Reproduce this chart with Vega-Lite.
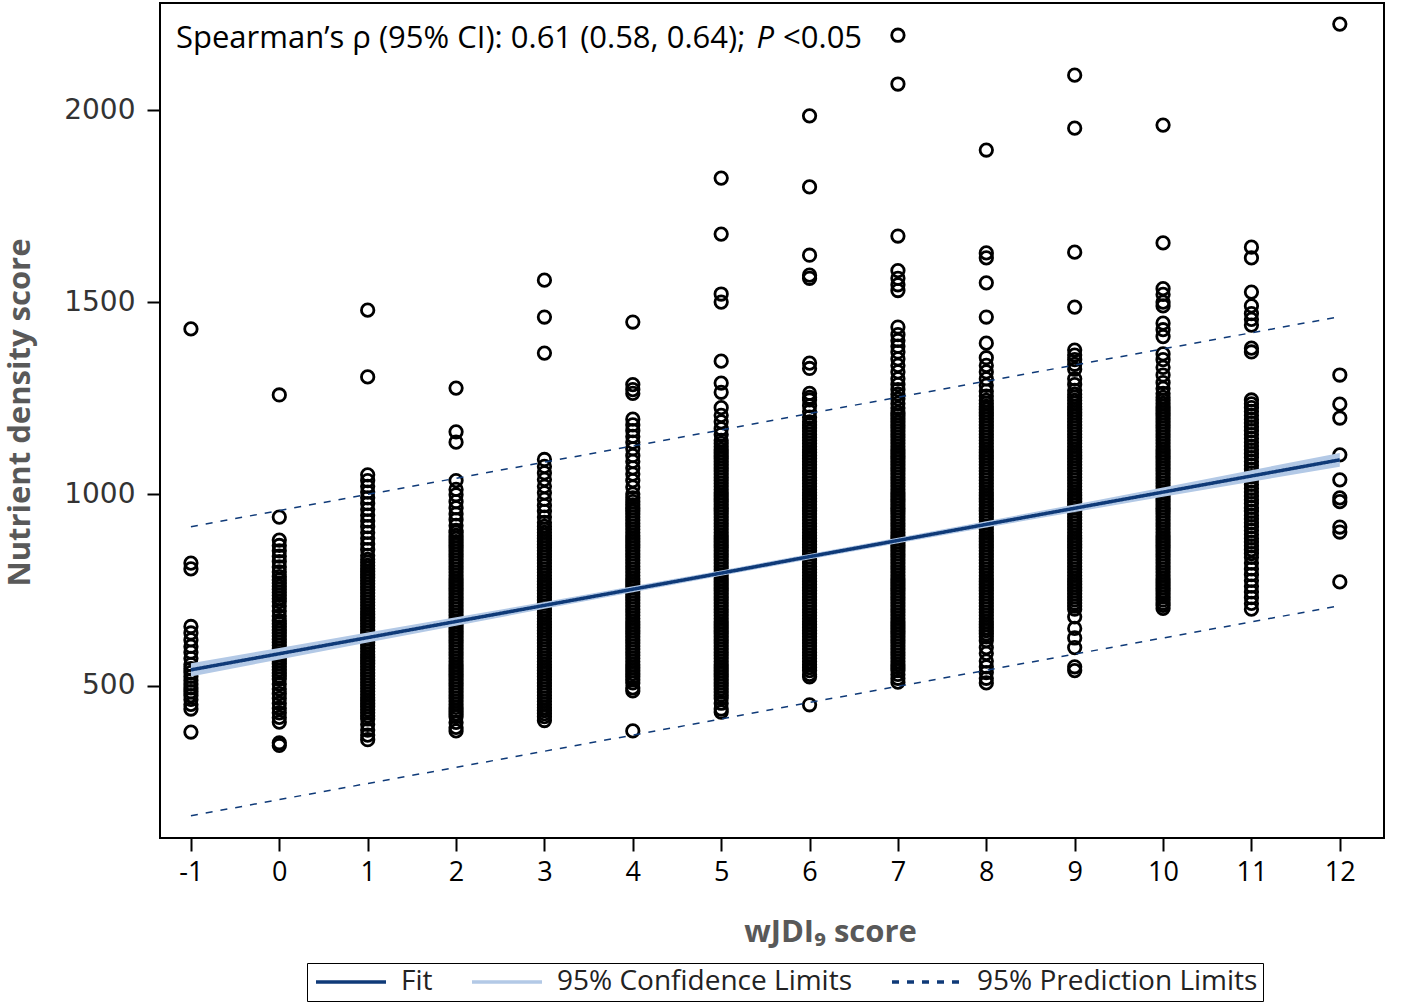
{
"$schema": "https://vega.github.io/schema/vega-lite/v6.json",
"width": 1224, "height": 835,
"autosize": "none",
"padding": {"left": 160, "top": 3, "right": 34, "bottom": 169},
"background": "white",
"config": {"view": {"stroke": "black", "strokeWidth": 2}},
"datasets": {
"pts": [
{"x":-1,"y":1430},{"x":-1,"y":820},{"x":-1,"y":805},{"x":-1,"y":655},{"x":-1,"y":638},{"x":-1,"y":620},{"x":-1,"y":603},{"x":-1,"y":588},{"x":-1,"y":572},{"x":-1,"y":556},{"x":-1,"y":545},{"x":-1,"y":535},{"x":-1,"y":525},{"x":-1,"y":515},{"x":-1,"y":505},{"x":-1,"y":495},{"x":-1,"y":485},{"x":-1,"y":475},{"x":-1,"y":465},{"x":-1,"y":452},{"x":-1,"y":440},{"x":-1,"y":380},
{"x":0,"y":1258},{"x":0,"y":940},{"x":0,"y":880},{"x":0,"y":866},{"x":0,"y":852},{"x":0,"y":838},{"x":0,"y":824},{"x":0,"y":810},{"x":0,"y":797},{"x":0,"y":785},{"x":0,"y":776},{"x":0,"y":768},{"x":0,"y":760},{"x":0,"y":752},{"x":0,"y":744},{"x":0,"y":736},{"x":0,"y":728},{"x":0,"y":720},{"x":0,"y":708},{"x":0,"y":695},{"x":0,"y":682},{"x":0,"y":670},{"x":0,"y":662},{"x":0,"y":654},{"x":0,"y":646},{"x":0,"y":638},{"x":0,"y":630},{"x":0,"y":622},{"x":0,"y":614},{"x":0,"y":606},{"x":0,"y":598},{"x":0,"y":590},{"x":0,"y":582},{"x":0,"y":574},{"x":0,"y":566},{"x":0,"y":558},{"x":0,"y":550},{"x":0,"y":542},{"x":0,"y":534},{"x":0,"y":526},{"x":0,"y":518},{"x":0,"y":505},{"x":0,"y":492},{"x":0,"y":480},{"x":0,"y":468},{"x":0,"y":455},{"x":0,"y":442},{"x":0,"y":430},{"x":0,"y":418},{"x":0,"y":406},{"x":0,"y":352},{"x":0,"y":345},
{"x":1,"y":1479},{"x":1,"y":1305},{"x":1,"y":1050},{"x":1,"y":1035},{"x":1,"y":1020},{"x":1,"y":1005},{"x":1,"y":990},{"x":1,"y":975},{"x":1,"y":960},{"x":1,"y":945},{"x":1,"y":930},{"x":1,"y":915},{"x":1,"y":900},{"x":1,"y":885},{"x":1,"y":870},{"x":1,"y":855},{"x":1,"y":840},
{"x":1,"y":830},{"x":1,"y":822},{"x":1,"y":814},{"x":1,"y":806},{"x":1,"y":798},{"x":1,"y":790},{"x":1,"y":782},{"x":1,"y":774},{"x":1,"y":766},{"x":1,"y":758},{"x":1,"y":750},{"x":1,"y":742},{"x":1,"y":734},{"x":1,"y":726},{"x":1,"y":718},{"x":1,"y":710},{"x":1,"y":702},{"x":1,"y":694},{"x":1,"y":686},{"x":1,"y":678},{"x":1,"y":670},{"x":1,"y":662},{"x":1,"y":654},{"x":1,"y":646},{"x":1,"y":638},{"x":1,"y":630},{"x":1,"y":622},{"x":1,"y":614},{"x":1,"y":606},{"x":1,"y":598},{"x":1,"y":590},{"x":1,"y":582},{"x":1,"y":574},{"x":1,"y":566},{"x":1,"y":558},{"x":1,"y":550},{"x":1,"y":542},{"x":1,"y":534},{"x":1,"y":526},{"x":1,"y":518},{"x":1,"y":510},{"x":1,"y":502},{"x":1,"y":494},{"x":1,"y":486},{"x":1,"y":478},{"x":1,"y":470},{"x":1,"y":462},{"x":1,"y":454},{"x":1,"y":446},{"x":1,"y":438},{"x":1,"y":430},{"x":1,"y":422},{"x":1,"y":414},{"x":1,"y":400},{"x":1,"y":385},{"x":1,"y":372},{"x":1,"y":360},
{"x":2,"y":1276},{"x":2,"y":1162},{"x":2,"y":1135},{"x":2,"y":1035},{"x":2,"y":1012},{"x":2,"y":998},{"x":2,"y":980},{"x":2,"y":964},{"x":2,"y":948},{"x":2,"y":933},{"x":2,"y":918},{"x":2,"y":905},
{"x":2,"y":900},{"x":2,"y":892},{"x":2,"y":884},{"x":2,"y":876},{"x":2,"y":868},{"x":2,"y":860},{"x":2,"y":852},{"x":2,"y":844},{"x":2,"y":836},{"x":2,"y":828},{"x":2,"y":820},{"x":2,"y":812},{"x":2,"y":804},{"x":2,"y":796},{"x":2,"y":788},{"x":2,"y":780},{"x":2,"y":772},{"x":2,"y":764},{"x":2,"y":756},{"x":2,"y":748},{"x":2,"y":740},{"x":2,"y":732},{"x":2,"y":724},{"x":2,"y":716},{"x":2,"y":708},{"x":2,"y":700},{"x":2,"y":692},{"x":2,"y":684},{"x":2,"y":676},{"x":2,"y":668},{"x":2,"y":660},{"x":2,"y":652},{"x":2,"y":644},{"x":2,"y":636},{"x":2,"y":628},{"x":2,"y":620},{"x":2,"y":612},{"x":2,"y":604},{"x":2,"y":596},{"x":2,"y":588},{"x":2,"y":580},{"x":2,"y":572},{"x":2,"y":564},{"x":2,"y":556},{"x":2,"y":548},{"x":2,"y":540},{"x":2,"y":532},{"x":2,"y":524},{"x":2,"y":516},{"x":2,"y":508},{"x":2,"y":500},{"x":2,"y":492},{"x":2,"y":484},{"x":2,"y":476},{"x":2,"y":468},{"x":2,"y":460},{"x":2,"y":452},{"x":2,"y":444},{"x":2,"y":436},{"x":2,"y":428},{"x":2,"y":420},{"x":2,"y":405},{"x":2,"y":392},{"x":2,"y":383},
{"x":3,"y":1557},{"x":3,"y":1461},{"x":3,"y":1367},{"x":3,"y":1090},{"x":3,"y":1072},{"x":3,"y":1055},{"x":3,"y":1038},{"x":3,"y":1020},{"x":3,"y":1003},{"x":3,"y":986},{"x":3,"y":970},{"x":3,"y":955},{"x":3,"y":940},{"x":3,"y":926},
{"x":3,"y":916},{"x":3,"y":908},{"x":3,"y":900},{"x":3,"y":892},{"x":3,"y":884},{"x":3,"y":876},{"x":3,"y":868},{"x":3,"y":860},{"x":3,"y":852},{"x":3,"y":844},{"x":3,"y":836},{"x":3,"y":828},{"x":3,"y":820},{"x":3,"y":812},{"x":3,"y":804},{"x":3,"y":796},{"x":3,"y":788},{"x":3,"y":780},{"x":3,"y":772},{"x":3,"y":764},{"x":3,"y":756},{"x":3,"y":748},{"x":3,"y":740},{"x":3,"y":732},{"x":3,"y":724},{"x":3,"y":716},{"x":3,"y":708},{"x":3,"y":700},{"x":3,"y":692},{"x":3,"y":684},{"x":3,"y":676},{"x":3,"y":668},{"x":3,"y":660},{"x":3,"y":652},{"x":3,"y":644},{"x":3,"y":636},{"x":3,"y":628},{"x":3,"y":620},{"x":3,"y":612},{"x":3,"y":604},{"x":3,"y":596},{"x":3,"y":588},{"x":3,"y":580},{"x":3,"y":572},{"x":3,"y":564},{"x":3,"y":556},{"x":3,"y":548},{"x":3,"y":540},{"x":3,"y":532},{"x":3,"y":524},{"x":3,"y":516},{"x":3,"y":508},{"x":3,"y":500},{"x":3,"y":492},{"x":3,"y":484},{"x":3,"y":476},{"x":3,"y":468},{"x":3,"y":460},{"x":3,"y":452},{"x":3,"y":444},{"x":3,"y":436},{"x":3,"y":428},{"x":3,"y":420},{"x":3,"y":410},
{"x":4,"y":1448},{"x":4,"y":1285},{"x":4,"y":1272},{"x":4,"y":1262},{"x":4,"y":1195},{"x":4,"y":1180},{"x":4,"y":1165},{"x":4,"y":1150},{"x":4,"y":1135},{"x":4,"y":1118},{"x":4,"y":1100},{"x":4,"y":1085},{"x":4,"y":1068},{"x":4,"y":1052},{"x":4,"y":1035},{"x":4,"y":1018},{"x":4,"y":1000},{"x":4,"y":990},
{"x":4,"y":980},{"x":4,"y":972},{"x":4,"y":964},{"x":4,"y":956},{"x":4,"y":948},{"x":4,"y":940},{"x":4,"y":932},{"x":4,"y":924},{"x":4,"y":916},{"x":4,"y":908},{"x":4,"y":900},{"x":4,"y":892},{"x":4,"y":884},{"x":4,"y":876},{"x":4,"y":868},{"x":4,"y":860},{"x":4,"y":852},{"x":4,"y":844},{"x":4,"y":836},{"x":4,"y":828},{"x":4,"y":820},{"x":4,"y":812},{"x":4,"y":804},{"x":4,"y":796},{"x":4,"y":788},{"x":4,"y":780},{"x":4,"y":772},{"x":4,"y":764},{"x":4,"y":756},{"x":4,"y":748},{"x":4,"y":740},{"x":4,"y":732},{"x":4,"y":724},{"x":4,"y":716},{"x":4,"y":708},{"x":4,"y":700},{"x":4,"y":692},{"x":4,"y":684},{"x":4,"y":676},{"x":4,"y":668},{"x":4,"y":660},{"x":4,"y":652},{"x":4,"y":644},{"x":4,"y":636},{"x":4,"y":628},{"x":4,"y":620},{"x":4,"y":612},{"x":4,"y":604},{"x":4,"y":596},{"x":4,"y":588},{"x":4,"y":580},{"x":4,"y":572},{"x":4,"y":564},{"x":4,"y":556},{"x":4,"y":548},{"x":4,"y":540},{"x":4,"y":532},{"x":4,"y":524},{"x":4,"y":516},{"x":4,"y":508},{"x":4,"y":495},{"x":4,"y":487},{"x":4,"y":383},
{"x":5,"y":1823},{"x":5,"y":1677},{"x":5,"y":1521},{"x":5,"y":1500},{"x":5,"y":1346},{"x":5,"y":1289},{"x":5,"y":1265},{"x":5,"y":1225},{"x":5,"y":1205},{"x":5,"y":1188},{"x":5,"y":1170},{"x":5,"y":1155},
{"x":5,"y":1140},{"x":5,"y":1132},{"x":5,"y":1124},{"x":5,"y":1116},{"x":5,"y":1108},{"x":5,"y":1100},{"x":5,"y":1092},{"x":5,"y":1084},{"x":5,"y":1076},{"x":5,"y":1068},{"x":5,"y":1060},{"x":5,"y":1052},{"x":5,"y":1044},{"x":5,"y":1036},{"x":5,"y":1028},{"x":5,"y":1020},{"x":5,"y":1012},{"x":5,"y":1004},{"x":5,"y":996},{"x":5,"y":988},{"x":5,"y":980},{"x":5,"y":972},{"x":5,"y":964},{"x":5,"y":956},{"x":5,"y":948},{"x":5,"y":940},{"x":5,"y":932},{"x":5,"y":924},{"x":5,"y":916},{"x":5,"y":908},{"x":5,"y":900},{"x":5,"y":892},{"x":5,"y":884},{"x":5,"y":876},{"x":5,"y":868},{"x":5,"y":860},{"x":5,"y":852},{"x":5,"y":844},{"x":5,"y":836},{"x":5,"y":828},{"x":5,"y":820},{"x":5,"y":812},{"x":5,"y":804},{"x":5,"y":796},{"x":5,"y":788},{"x":5,"y":780},{"x":5,"y":772},{"x":5,"y":764},{"x":5,"y":756},{"x":5,"y":748},{"x":5,"y":740},{"x":5,"y":732},{"x":5,"y":724},{"x":5,"y":716},{"x":5,"y":708},{"x":5,"y":700},{"x":5,"y":692},{"x":5,"y":684},{"x":5,"y":676},{"x":5,"y":668},{"x":5,"y":660},{"x":5,"y":652},{"x":5,"y":644},{"x":5,"y":636},{"x":5,"y":628},{"x":5,"y":620},{"x":5,"y":612},{"x":5,"y":604},{"x":5,"y":596},{"x":5,"y":588},{"x":5,"y":580},{"x":5,"y":572},{"x":5,"y":564},{"x":5,"y":556},{"x":5,"y":548},{"x":5,"y":540},{"x":5,"y":532},{"x":5,"y":524},{"x":5,"y":516},{"x":5,"y":508},{"x":5,"y":500},{"x":5,"y":492},{"x":5,"y":484},{"x":5,"y":476},{"x":5,"y":468},{"x":5,"y":455},{"x":5,"y":440},{"x":5,"y":432},
{"x":6,"y":1985},{"x":6,"y":1800},{"x":6,"y":1622},{"x":6,"y":1570},{"x":6,"y":1562},{"x":6,"y":1341},{"x":6,"y":1327},{"x":6,"y":1262},{"x":6,"y":1252},{"x":6,"y":1245},{"x":6,"y":1230},{"x":6,"y":1215},{"x":6,"y":1200},
{"x":6,"y":1188},{"x":6,"y":1180},{"x":6,"y":1172},{"x":6,"y":1164},{"x":6,"y":1156},{"x":6,"y":1148},{"x":6,"y":1140},{"x":6,"y":1132},{"x":6,"y":1124},{"x":6,"y":1116},{"x":6,"y":1108},{"x":6,"y":1100},{"x":6,"y":1092},{"x":6,"y":1084},{"x":6,"y":1076},{"x":6,"y":1068},{"x":6,"y":1060},{"x":6,"y":1052},{"x":6,"y":1044},{"x":6,"y":1036},{"x":6,"y":1028},{"x":6,"y":1020},{"x":6,"y":1012},{"x":6,"y":1004},{"x":6,"y":996},{"x":6,"y":988},{"x":6,"y":980},{"x":6,"y":972},{"x":6,"y":964},{"x":6,"y":956},{"x":6,"y":948},{"x":6,"y":940},{"x":6,"y":932},{"x":6,"y":924},{"x":6,"y":916},{"x":6,"y":908},{"x":6,"y":900},{"x":6,"y":892},{"x":6,"y":884},{"x":6,"y":876},{"x":6,"y":868},{"x":6,"y":860},{"x":6,"y":852},{"x":6,"y":844},{"x":6,"y":836},{"x":6,"y":828},{"x":6,"y":820},{"x":6,"y":812},{"x":6,"y":804},{"x":6,"y":796},{"x":6,"y":788},{"x":6,"y":780},{"x":6,"y":772},{"x":6,"y":764},{"x":6,"y":756},{"x":6,"y":748},{"x":6,"y":740},{"x":6,"y":732},{"x":6,"y":724},{"x":6,"y":716},{"x":6,"y":708},{"x":6,"y":700},{"x":6,"y":692},{"x":6,"y":684},{"x":6,"y":676},{"x":6,"y":668},{"x":6,"y":660},{"x":6,"y":652},{"x":6,"y":644},{"x":6,"y":636},{"x":6,"y":628},{"x":6,"y":620},{"x":6,"y":612},{"x":6,"y":604},{"x":6,"y":596},{"x":6,"y":588},{"x":6,"y":580},{"x":6,"y":572},{"x":6,"y":564},{"x":6,"y":556},{"x":6,"y":548},{"x":6,"y":540},{"x":6,"y":530},{"x":6,"y":524},{"x":6,"y":451},
{"x":7,"y":2195},{"x":7,"y":2068},{"x":7,"y":1672},{"x":7,"y":1582},{"x":7,"y":1562},{"x":7,"y":1545},{"x":7,"y":1530},{"x":7,"y":1435},{"x":7,"y":1415},{"x":7,"y":1400},{"x":7,"y":1385},{"x":7,"y":1370},{"x":7,"y":1352},{"x":7,"y":1335},{"x":7,"y":1318},{"x":7,"y":1300},{"x":7,"y":1285},{"x":7,"y":1272},{"x":7,"y":1260},{"x":7,"y":1248},{"x":7,"y":1236},{"x":7,"y":1224},{"x":7,"y":1212},
{"x":7,"y":1204},{"x":7,"y":1196},{"x":7,"y":1188},{"x":7,"y":1180},{"x":7,"y":1172},{"x":7,"y":1164},{"x":7,"y":1156},{"x":7,"y":1148},{"x":7,"y":1140},{"x":7,"y":1132},{"x":7,"y":1124},{"x":7,"y":1116},{"x":7,"y":1108},{"x":7,"y":1100},{"x":7,"y":1092},{"x":7,"y":1084},{"x":7,"y":1076},{"x":7,"y":1068},{"x":7,"y":1060},{"x":7,"y":1052},{"x":7,"y":1044},{"x":7,"y":1036},{"x":7,"y":1028},{"x":7,"y":1020},{"x":7,"y":1012},{"x":7,"y":1004},{"x":7,"y":996},{"x":7,"y":988},{"x":7,"y":980},{"x":7,"y":972},{"x":7,"y":964},{"x":7,"y":956},{"x":7,"y":948},{"x":7,"y":940},{"x":7,"y":932},{"x":7,"y":924},{"x":7,"y":916},{"x":7,"y":908},{"x":7,"y":900},{"x":7,"y":892},{"x":7,"y":884},{"x":7,"y":876},{"x":7,"y":868},{"x":7,"y":860},{"x":7,"y":852},{"x":7,"y":844},{"x":7,"y":836},{"x":7,"y":828},{"x":7,"y":820},{"x":7,"y":812},{"x":7,"y":804},{"x":7,"y":796},{"x":7,"y":788},{"x":7,"y":780},{"x":7,"y":772},{"x":7,"y":764},{"x":7,"y":756},{"x":7,"y":748},{"x":7,"y":740},{"x":7,"y":732},{"x":7,"y":724},{"x":7,"y":716},{"x":7,"y":708},{"x":7,"y":700},{"x":7,"y":692},{"x":7,"y":684},{"x":7,"y":676},{"x":7,"y":668},{"x":7,"y":660},{"x":7,"y":652},{"x":7,"y":644},{"x":7,"y":636},{"x":7,"y":628},{"x":7,"y":620},{"x":7,"y":612},{"x":7,"y":604},{"x":7,"y":596},{"x":7,"y":588},{"x":7,"y":580},{"x":7,"y":572},{"x":7,"y":564},{"x":7,"y":556},{"x":7,"y":548},{"x":7,"y":540},{"x":7,"y":530},{"x":7,"y":520},{"x":7,"y":510},
{"x":8,"y":1896},{"x":8,"y":1628},{"x":8,"y":1615},{"x":8,"y":1550},{"x":8,"y":1461},{"x":8,"y":1393},{"x":8,"y":1355},{"x":8,"y":1335},{"x":8,"y":1318},{"x":8,"y":1300},{"x":8,"y":1283},{"x":8,"y":1268},{"x":8,"y":1255},
{"x":8,"y":1244},{"x":8,"y":1236},{"x":8,"y":1228},{"x":8,"y":1220},{"x":8,"y":1212},{"x":8,"y":1204},{"x":8,"y":1196},{"x":8,"y":1188},{"x":8,"y":1180},{"x":8,"y":1172},{"x":8,"y":1164},{"x":8,"y":1156},{"x":8,"y":1148},{"x":8,"y":1140},{"x":8,"y":1132},{"x":8,"y":1124},{"x":8,"y":1116},{"x":8,"y":1108},{"x":8,"y":1100},{"x":8,"y":1092},{"x":8,"y":1084},{"x":8,"y":1076},{"x":8,"y":1068},{"x":8,"y":1060},{"x":8,"y":1052},{"x":8,"y":1044},{"x":8,"y":1036},{"x":8,"y":1028},{"x":8,"y":1020},{"x":8,"y":1012},{"x":8,"y":1004},{"x":8,"y":996},{"x":8,"y":988},{"x":8,"y":980},{"x":8,"y":972},{"x":8,"y":964},{"x":8,"y":956},{"x":8,"y":948},{"x":8,"y":940},{"x":8,"y":932},{"x":8,"y":924},{"x":8,"y":916},{"x":8,"y":908},{"x":8,"y":900},{"x":8,"y":892},{"x":8,"y":884},{"x":8,"y":876},{"x":8,"y":868},{"x":8,"y":860},{"x":8,"y":852},{"x":8,"y":844},{"x":8,"y":836},{"x":8,"y":828},{"x":8,"y":820},{"x":8,"y":812},{"x":8,"y":804},{"x":8,"y":796},{"x":8,"y":788},{"x":8,"y":780},{"x":8,"y":772},{"x":8,"y":764},{"x":8,"y":756},{"x":8,"y":748},{"x":8,"y":740},{"x":8,"y":732},{"x":8,"y":724},{"x":8,"y":716},{"x":8,"y":708},{"x":8,"y":700},{"x":8,"y":692},{"x":8,"y":684},{"x":8,"y":676},{"x":8,"y":668},{"x":8,"y":660},{"x":8,"y":652},{"x":8,"y":644},{"x":8,"y":636},{"x":8,"y":628},{"x":8,"y":618},{"x":8,"y":600},{"x":8,"y":585},{"x":8,"y":565},{"x":8,"y":550},{"x":8,"y":535},{"x":8,"y":520},{"x":8,"y":508},
{"x":9,"y":2091},{"x":9,"y":1953},{"x":9,"y":1630},{"x":9,"y":1487},{"x":9,"y":1375},{"x":9,"y":1362},{"x":9,"y":1350},{"x":9,"y":1338},{"x":9,"y":1325},{"x":9,"y":1300},{"x":9,"y":1285},{"x":9,"y":1270},
{"x":9,"y":1260},{"x":9,"y":1252},{"x":9,"y":1244},{"x":9,"y":1236},{"x":9,"y":1228},{"x":9,"y":1220},{"x":9,"y":1212},{"x":9,"y":1204},{"x":9,"y":1196},{"x":9,"y":1188},{"x":9,"y":1180},{"x":9,"y":1172},{"x":9,"y":1164},{"x":9,"y":1156},{"x":9,"y":1148},{"x":9,"y":1140},{"x":9,"y":1132},{"x":9,"y":1124},{"x":9,"y":1116},{"x":9,"y":1108},{"x":9,"y":1100},{"x":9,"y":1092},{"x":9,"y":1084},{"x":9,"y":1076},{"x":9,"y":1068},{"x":9,"y":1060},{"x":9,"y":1052},{"x":9,"y":1044},{"x":9,"y":1036},{"x":9,"y":1028},{"x":9,"y":1020},{"x":9,"y":1012},{"x":9,"y":1004},{"x":9,"y":996},{"x":9,"y":988},{"x":9,"y":980},{"x":9,"y":972},{"x":9,"y":964},{"x":9,"y":956},{"x":9,"y":948},{"x":9,"y":940},{"x":9,"y":932},{"x":9,"y":924},{"x":9,"y":916},{"x":9,"y":908},{"x":9,"y":900},{"x":9,"y":892},{"x":9,"y":884},{"x":9,"y":876},{"x":9,"y":868},{"x":9,"y":860},{"x":9,"y":852},{"x":9,"y":844},{"x":9,"y":836},{"x":9,"y":828},{"x":9,"y":820},{"x":9,"y":812},{"x":9,"y":804},{"x":9,"y":796},{"x":9,"y":788},{"x":9,"y":780},{"x":9,"y":772},{"x":9,"y":764},{"x":9,"y":756},{"x":9,"y":748},{"x":9,"y":740},{"x":9,"y":732},{"x":9,"y":724},{"x":9,"y":716},{"x":9,"y":708},{"x":9,"y":700},{"x":9,"y":680},{"x":9,"y":650},{"x":9,"y":625},{"x":9,"y":600},{"x":9,"y":550},{"x":9,"y":540},
{"x":10,"y":1961},{"x":10,"y":1654},{"x":10,"y":1535},{"x":10,"y":1520},{"x":10,"y":1500},{"x":10,"y":1490},{"x":10,"y":1445},{"x":10,"y":1428},{"x":10,"y":1410},{"x":10,"y":1365},{"x":10,"y":1350},{"x":10,"y":1330},{"x":10,"y":1310},{"x":10,"y":1290},{"x":10,"y":1275},{"x":10,"y":1262},
{"x":10,"y":1252},{"x":10,"y":1244},{"x":10,"y":1236},{"x":10,"y":1228},{"x":10,"y":1220},{"x":10,"y":1212},{"x":10,"y":1204},{"x":10,"y":1196},{"x":10,"y":1188},{"x":10,"y":1180},{"x":10,"y":1172},{"x":10,"y":1164},{"x":10,"y":1156},{"x":10,"y":1148},{"x":10,"y":1140},{"x":10,"y":1132},{"x":10,"y":1124},{"x":10,"y":1116},{"x":10,"y":1108},{"x":10,"y":1100},{"x":10,"y":1092},{"x":10,"y":1084},{"x":10,"y":1076},{"x":10,"y":1068},{"x":10,"y":1060},{"x":10,"y":1052},{"x":10,"y":1044},{"x":10,"y":1036},{"x":10,"y":1028},{"x":10,"y":1020},{"x":10,"y":1012},{"x":10,"y":1004},{"x":10,"y":996},{"x":10,"y":988},{"x":10,"y":980},{"x":10,"y":972},{"x":10,"y":964},{"x":10,"y":956},{"x":10,"y":948},{"x":10,"y":940},{"x":10,"y":932},{"x":10,"y":924},{"x":10,"y":916},{"x":10,"y":908},{"x":10,"y":900},{"x":10,"y":892},{"x":10,"y":884},{"x":10,"y":876},{"x":10,"y":868},{"x":10,"y":860},{"x":10,"y":852},{"x":10,"y":844},{"x":10,"y":836},{"x":10,"y":828},{"x":10,"y":820},{"x":10,"y":812},{"x":10,"y":804},{"x":10,"y":796},{"x":10,"y":788},{"x":10,"y":780},{"x":10,"y":772},{"x":10,"y":764},{"x":10,"y":756},{"x":10,"y":748},{"x":10,"y":740},{"x":10,"y":732},{"x":10,"y":724},{"x":10,"y":716},{"x":10,"y":710},{"x":10,"y":702},
{"x":11,"y":1643},{"x":11,"y":1615},{"x":11,"y":1526},{"x":11,"y":1490},{"x":11,"y":1470},{"x":11,"y":1455},{"x":11,"y":1440},{"x":11,"y":1380},{"x":11,"y":1370},
{"x":11,"y":1245},{"x":11,"y":1235},{"x":11,"y":1225},{"x":11,"y":1215},{"x":11,"y":1205},{"x":11,"y":1195},{"x":11,"y":1185},{"x":11,"y":1175},{"x":11,"y":1165},{"x":11,"y":1155},{"x":11,"y":1145},{"x":11,"y":1135},{"x":11,"y":1125},{"x":11,"y":1115},{"x":11,"y":1105},{"x":11,"y":1095},{"x":11,"y":1085},{"x":11,"y":1075},{"x":11,"y":1065},{"x":11,"y":1055},{"x":11,"y":1045},{"x":11,"y":1035},{"x":11,"y":1025},{"x":11,"y":1015},{"x":11,"y":1005},{"x":11,"y":995},{"x":11,"y":985},{"x":11,"y":975},{"x":11,"y":965},{"x":11,"y":955},{"x":11,"y":945},{"x":11,"y":935},{"x":11,"y":925},{"x":11,"y":915},{"x":11,"y":905},{"x":11,"y":895},{"x":11,"y":885},{"x":11,"y":875},{"x":11,"y":865},{"x":11,"y":855},{"x":11,"y":845},{"x":11,"y":835},{"x":11,"y":820},{"x":11,"y":805},{"x":11,"y":790},{"x":11,"y":775},{"x":11,"y":760},{"x":11,"y":745},{"x":11,"y":730},{"x":11,"y":715},{"x":11,"y":700},
{"x":12,"y":2224},{"x":12,"y":1310},{"x":12,"y":1234},{"x":12,"y":1198},{"x":12,"y":1102},{"x":12,"y":1037},{"x":12,"y":990},{"x":12,"y":980},{"x":12,"y":914},{"x":12,"y":901},{"x":12,"y":771}
],
"fit": [
{"x":-1,"fit":542,"lo":525,"hi":559,"plo":162,"phi":915},
{"x":0,"fit":584,"lo":569,"hi":599,"plo":204,"phi":957},
{"x":1,"fit":626,"lo":613,"hi":639,"plo":246,"phi":999},
{"x":2,"fit":668,"lo":657,"hi":679,"plo":288,"phi":1041},
{"x":3,"fit":710,"lo":701,"hi":719,"plo":330,"phi":1083},
{"x":4,"fit":752,"lo":744,"hi":760,"plo":372,"phi":1125},
{"x":5,"fit":794,"lo":787,"hi":801,"plo":414,"phi":1167},
{"x":6,"fit":837,"lo":830,"hi":844,"plo":457,"phi":1210},
{"x":7,"fit":879,"lo":872,"hi":886,"plo":499,"phi":1252},
{"x":8,"fit":921,"lo":913,"hi":929,"plo":541,"phi":1294},
{"x":9,"fit":963,"lo":953,"hi":973,"plo":583,"phi":1336},
{"x":10,"fit":1005,"lo":993,"hi":1017,"plo":625,"phi":1378},
{"x":11,"fit":1047,"lo":1032,"hi":1062,"plo":667,"phi":1420},
{"x":12,"fit":1089,"lo":1071,"hi":1107,"plo":709,"phi":1462}
]
},
"encoding": {
  "x": {"type": "quantitative", "scale": {"domain": [-1.35, 12.5], "nice": false, "zero": false},
    "axis": {"values": [-1,0,1,2,3,4,5,6,7,8,9,10,11,12], "labelExpr": "'' + datum.value", "title": "wJDI₉ score", "grid": false, "domain": false,
      "tickColor": "black", "tickWidth": 2, "tickSize": 13, "labelFont": "Open Sans", "labelFontSize": 27, "labelColor": "black", "labelPadding": 8,
      "titleFont": "Open Sans", "titleFontSize": 31, "titleFontWeight": "bold", "titleColor": "#595959", "titleBaseline": "alphabetic", "titleX": 670, "titleY": 103}},
  "y": {"type": "quantitative", "scale": {"domain": [104, 2279], "nice": false, "zero": false},
    "axis": {"values": [500,1000,1500,2000], "format": "d", "title": "Nutrient density score", "grid": false, "domain": false,
      "tickColor": "black", "tickWidth": 2, "tickSize": 13, "labelFont": "DejaVu Sans", "labelFontSize": 28, "labelColor": "#333", "labelPadding": 12,
      "titleFont": "Open Sans", "titleFontSize": 31, "titleFontWeight": "bold", "titleColor": "#595959", "titleBaseline": "alphabetic", "titleX": -131, "titleY": 409}}
},
"layer": [
{"data": {"name": "pts"}, "mark": {"type": "point", "shape": "circle", "filled": false, "color": "black", "strokeWidth": 2.8, "size": 155, "opacity": 1},
 "encoding": {"x": {"field": "x", "type": "quantitative"}, "y": {"field": "y", "type": "quantitative"}}},
{"data": {"name": "fit"}, "mark": {"type": "line", "strokeWidth": 1.5},
 "encoding": {"x": {"field": "x", "type": "quantitative"}, "y": {"field": "phi", "type": "quantitative"},
  "color": {"datum": "95% Prediction Limits", "type": "nominal",
    "scale": {"domain": ["Fit", "95% Confidence Limits", "95% Prediction Limits"], "range": ["#0f3a78", "#b3c9e6", "#0f3a78"]},
    "legend": {"title": null, "orient": "none", "legendX": 147, "legendY": 960, "direction": "horizontal", "gridAlign": "none",
      "strokeColor": "black", "padding": 5, "columnPadding": 32, "labelFont": "Open Sans", "labelFontSize": 28, "labelColor": "#222", "labelLimit": 400, "labelOffset": 61,
      "symbolType": "M-1,0H6", "symbolSize": 400, "symbolStrokeWidth": 3.5, "symbolOpacity": 1}},
  "strokeDash": {"datum": "95% Prediction Limits", "type": "nominal",
    "scale": {"domain": ["Fit", "95% Confidence Limits", "95% Prediction Limits"], "range": [[1, 0], [1, 0], [7, 8]]}}}},
{"data": {"name": "fit"}, "mark": {"type": "line", "strokeWidth": 1.5},
 "encoding": {"x": {"field": "x", "type": "quantitative"}, "y": {"field": "plo", "type": "quantitative"},
  "color": {"datum": "95% Prediction Limits", "type": "nominal"},
  "strokeDash": {"datum": "95% Prediction Limits", "type": "nominal"}}},
{"data": {"name": "fit"}, "mark": {"type": "area", "opacity": 1},
 "encoding": {"x": {"field": "x", "type": "quantitative"}, "y": {"field": "lo", "type": "quantitative"}, "y2": {"field": "hi"},
  "color": {"datum": "95% Confidence Limits", "type": "nominal"}}},
{"data": {"name": "fit"}, "mark": {"type": "line", "strokeWidth": 3.5},
 "encoding": {"x": {"field": "x", "type": "quantitative"}, "y": {"field": "fit", "type": "quantitative"},
  "color": {"datum": "Fit", "type": "nominal"},
  "strokeDash": {"datum": "Fit", "type": "nominal"}}},
{"data": {"values": [{"x": -1.169, "y": 2185, "t": "Spearman’s ρ (95% CI): 0.61 (0.58, 0.64);"}, {"x": 5.70, "y": 2185, "t": "<0.05"}]},
 "mark": {"type": "text", "align": "left", "baseline": "middle", "font": "Open Sans", "fontSize": 31, "color": "black"},
 "encoding": {"x": {"field": "x", "type": "quantitative"}, "y": {"field": "y", "type": "quantitative"}, "text": {"field": "t"}}},
{"data": {"values": [{"x": 5.40, "y": 2185, "t": "P"}]},
 "mark": {"type": "text", "align": "left", "baseline": "middle", "font": "Open Sans", "fontSize": 31, "fontStyle": "italic", "color": "black"},
 "encoding": {"x": {"field": "x", "type": "quantitative"}, "y": {"field": "y", "type": "quantitative"}, "text": {"field": "t"}}}
]
}
